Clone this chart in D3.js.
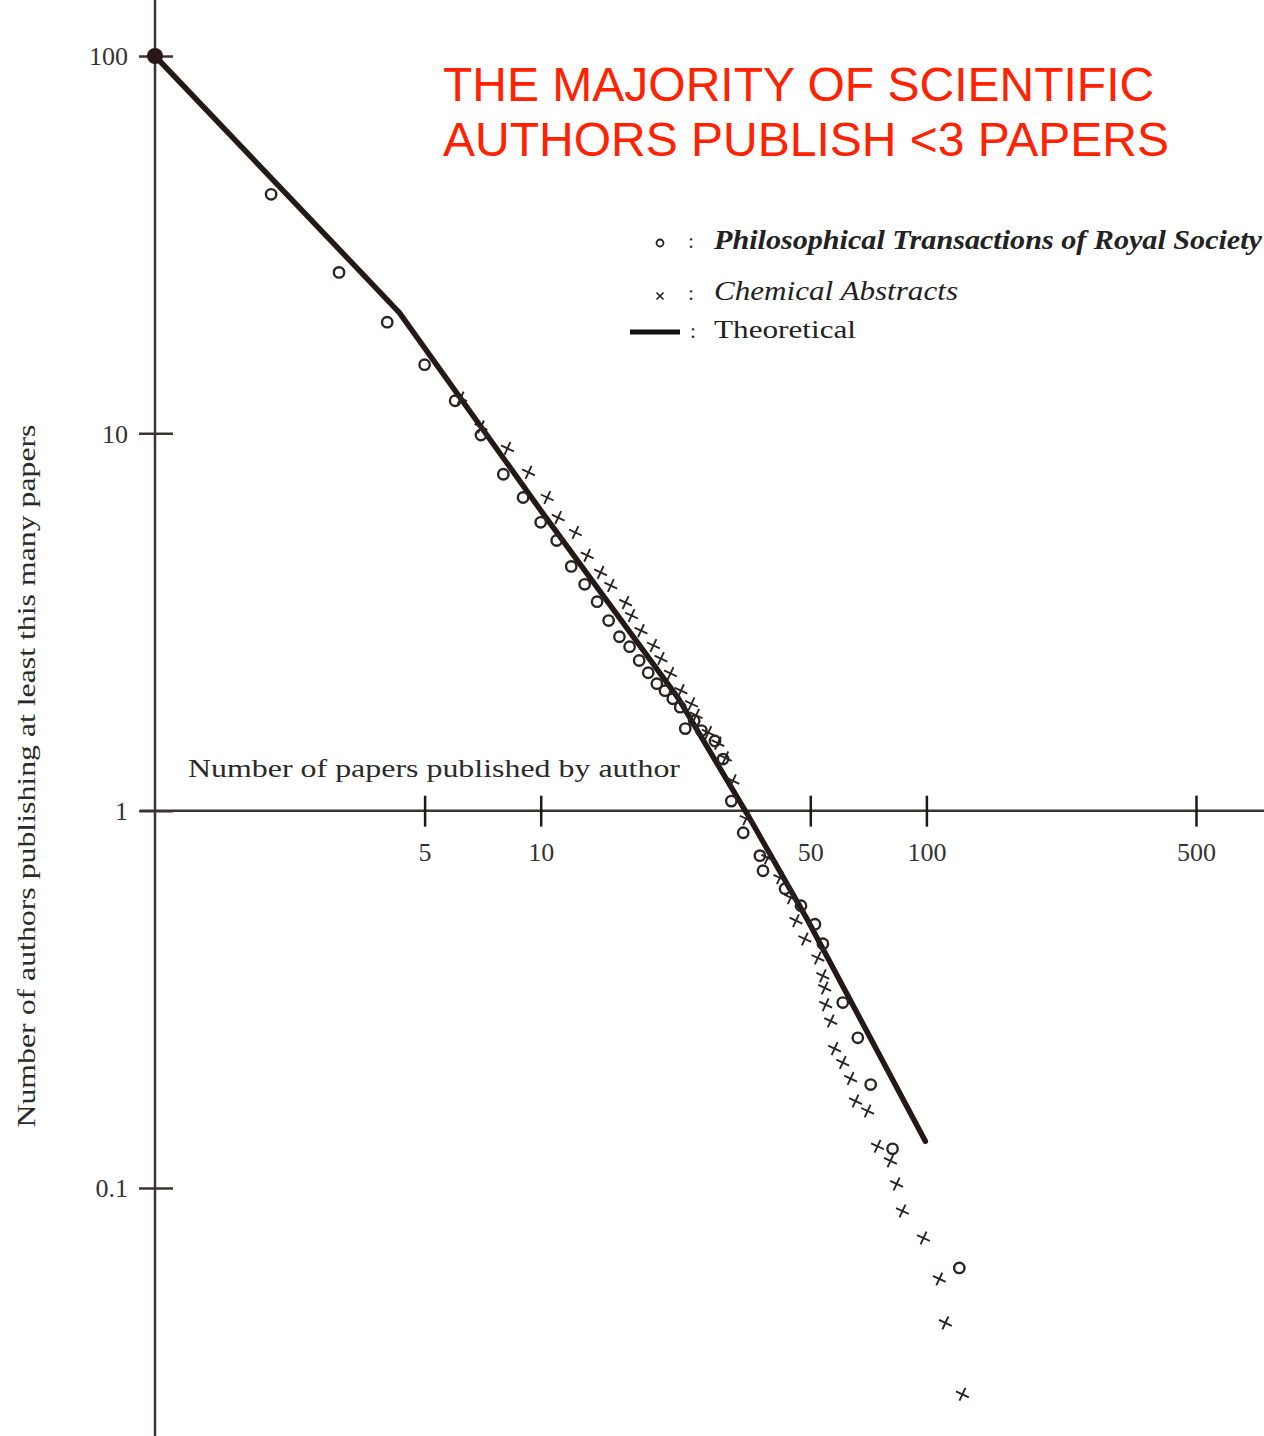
<!DOCTYPE html>
<html>
<head>
<meta charset="utf-8">
<script src="https://cdn.jsdelivr.net/npm/d3@7"></script>
<style>
html,body{margin:0;padding:0;background:#fff;}
svg{display:block;}
</style>
</head>
<body>
<svg id="chart" width="1264" height="1436"></svg>
<script>
// ---- data ----
const titleLines = ["THE MAJORITY OF SCIENTIFIC", "AUTHORS PUBLISH <3 PAPERS"];
const xTickValues = [5, 10, 50, 100, 500];
const yTickValues = [0.1, 1, 10, 100];
const yTickLabels = ["0.1", "1", "10", "100"];

const philPapers  = [2,3,4,5,6,7,8,9,10,11,12,13,14,15,16,17,18,19,20,21,22,23,23.7,25,26.1,28.3,29.7,31.2,33.5,37,37.7,43,47.3,51.4,53.9,60.7,66.4,71.7,81.7,121.7];
const philAuthors = [43,26.7,19.7,15.2,12.2,9.9,7.79,6.76,5.81,5.2,4.44,3.98,3.58,3.19,2.89,2.72,2.5,2.32,2.17,2.08,1.98,1.88,1.65,1.73,1.63,1.53,1.37,1.06,0.874,0.76,0.693,0.621,0.56,0.5,0.444,0.31,0.25,0.188,0.127,0.0614];

const chemPapers  = [6.2,7.0,8.2,9.3,10.4,11.1,12.3,13.2,14.3,15.2,16.6,17.2,18.2,19.6,20.5,21.7,23.1,24.6,25.3,27.2,28.8,30.1,31.5,34.1,38.8,41.7,44.5,45.9,48.4,52.3,53.9,54.5,54.8,56.5,57.8,60.7,63.6,65.5,70.4,74.7,80.7,83.7,86.7,98.3,108,112,124];
const chemAuthors = [12.4,10.4,9.12,7.88,6.76,5.98,5.46,4.75,4.28,3.95,3.56,3.29,3.0,2.74,2.53,2.31,2.08,1.92,1.79,1.61,1.51,1.38,1.2,0.952,0.75,0.664,0.588,0.511,0.457,0.407,0.365,0.339,0.306,0.277,0.234,0.215,0.195,0.170,0.160,0.129,0.118,0.1025,0.0869,0.0737,0.0574,0.0439,0.0284];

const theoPapers  = [1, 4.3, 10, 15.3, 22.7, 34.5, 49.3, 99.4];
const theoAuthors = [100, 20.9, 6.25, 3.45, 1.99, 0.97, 0.511, 0.133];

const legendLabels = ["Philosophical Transactions of Royal Society", "Chemical Abstracts", "Theoretical"];
const xAxisTitle = "Number of papers published by author";
const yAxisTitle = "Number of authors publishing at least this many papers";

// ---- drawing ----
const W = 1264, H = 1436;
const ink = "#231a18";
const axisInk = "#3a3433";
const serif = "'Liberation Serif', 'DejaVu Serif', serif";

const svg = d3.select("#chart");
const x = d3.scaleLog().domain([1, 500]).range([155, 1196]);
const y = d3.scaleLog().domain([0.1, 100]).range([1188, 56]);

const x0 = x(1), y0 = y(1);

// axis lines
svg.append("line").attr("x1", x0).attr("x2", x0).attr("y1", 0).attr("y2", H)
  .attr("stroke", axisInk).attr("stroke-width", 2.5);
svg.append("line").attr("x1", x0 - 15).attr("x2", W).attr("y1", y0).attr("y2", y0)
  .attr("stroke", axisInk).attr("stroke-width", 2.5);

// y axis
const yAxis = d3.axisLeft(y).tickValues(yTickValues)
  .tickFormat((d, i) => yTickLabels[i]).tickSize(16);
const gy = svg.append("g").attr("transform", `translate(${x0},0)`).call(yAxis);
gy.select(".domain").remove();
gy.selectAll(".tick line").attr("x1", 18).attr("x2", -16)
  .attr("stroke", axisInk).attr("stroke-width", 2.5);
gy.selectAll(".tick text").attr("x", -27).attr("dy", "0.34em")
  .attr("font-family", serif).attr("font-size", 26).attr("fill", "#333");

// x axis
const xAxis = d3.axisBottom(x).tickValues(xTickValues).tickFormat(d3.format("d")).tickSize(16);
const gx = svg.append("g").attr("transform", `translate(0,${y0})`).call(xAxis);
gx.select(".domain").remove();
gx.selectAll(".tick line").attr("y1", -15).attr("y2", 16)
  .attr("stroke", "#1a1a1a").attr("stroke-width", 2.5);
gx.selectAll(".tick text").attr("y", 32).attr("dy", "0.71em")
  .attr("font-family", serif).attr("font-size", 26).attr("fill", "#333");

// axis titles
svg.append("text").attr("x", 188).attr("y", 777)
  .attr("font-family", serif).attr("font-size", 25).attr("fill", "#2a2a2a")
  .attr("textLength", 492).attr("lengthAdjust", "spacingAndGlyphs")
  .text(xAxisTitle);
svg.append("text").attr("transform", "translate(35,776) rotate(-90)")
  .attr("text-anchor", "middle")
  .attr("font-family", serif).attr("font-size", 25).attr("fill", "#2a2a2a")
  .attr("textLength", 703).attr("lengthAdjust", "spacingAndGlyphs")
  .text(yAxisTitle);

// theoretical line
const theo = theoPapers.map((p, i) => [p, theoAuthors[i]]);
svg.append("path").datum(theo)
  .attr("d", d3.line().x(d => x(d[0])).y(d => y(d[1])))
  .attr("fill", "none").attr("stroke", ink).attr("stroke-width", 5.5)
  .attr("stroke-linecap", "round").attr("stroke-linejoin", "round");
svg.append("circle").attr("cx", x(theoPapers[0])).attr("cy", y(theoAuthors[0]))
  .attr("r", 8).attr("fill", "#2a1616");

// crosses (Chemical Abstracts)
const chem = chemPapers.map((p, i) => [p, chemAuthors[i]]);
const crossPath = "M-5,-5L5,5M-5,5L5,-5";
svg.append("g").selectAll("path").data(chem).join("path")
  .attr("transform", d => `translate(${x(d[0])},${y(d[1])}) rotate(-20)`)
  .attr("d", crossPath).attr("stroke", "#2a2424").attr("stroke-width", 1.9)
  .attr("fill", "none");

// circles (Philosophical Transactions)
const phil = philPapers.map((p, i) => [p, philAuthors[i]]);
svg.append("g").selectAll("circle").data(phil).join("circle")
  .attr("cx", d => x(d[0])).attr("cy", d => y(d[1]))
  .attr("r", 5.2).attr("fill", "none").attr("stroke", "#2a2424").attr("stroke-width", 2.4);

// legend
const lg = svg.append("g");
lg.append("circle").attr("cx", 660).attr("cy", 243).attr("r", 3.5)
  .attr("fill", "none").attr("stroke", "#222").attr("stroke-width", 1.8);
lg.append("path").attr("transform", "translate(660,296)").attr("d", "M-3.5,-3.5L3.5,3.5M-3.5,3.5L3.5,-3.5")
  .attr("stroke", "#222").attr("stroke-width", 1.6);
lg.append("line").attr("x1", 630).attr("x2", 680).attr("y1", 332).attr("y2", 332)
  .attr("stroke", "#111").attr("stroke-width", 5);
[[688, 248], [688, 300], [690, 338]].forEach(p => {
  lg.append("text").attr("x", p[0]).attr("y", p[1]).attr("font-family", serif)
    .attr("font-size", 22).attr("fill", "#333").text(":");
});
lg.append("text").attr("x", 714).attr("y", 249).attr("font-family", serif)
  .attr("font-size", 27).attr("font-style", "italic").attr("font-weight", "bold").attr("fill", "#222")
  .attr("textLength", 548).attr("lengthAdjust", "spacingAndGlyphs").text(legendLabels[0]);
lg.append("text").attr("x", 714).attr("y", 300).attr("font-family", serif)
  .attr("font-size", 27).attr("font-style", "italic").attr("fill", "#222")
  .attr("textLength", 244).attr("lengthAdjust", "spacingAndGlyphs").text(legendLabels[1]);
lg.append("text").attr("x", 714).attr("y", 338).attr("font-family", serif)
  .attr("font-size", 26).attr("fill", "#222")
  .attr("textLength", 142).attr("lengthAdjust", "spacingAndGlyphs").text(legendLabels[2]);

// red title
svg.append("g").selectAll("text").data(titleLines).join("text")
  .attr("x", 443).attr("y", (d, i) => 101 + i * 55)
  .attr("font-family", "'Liberation Sans', Arial, sans-serif").attr("font-size", 48)
  .attr("fill", "#ff2200").text(d => d);
</script>
</body>
</html>
